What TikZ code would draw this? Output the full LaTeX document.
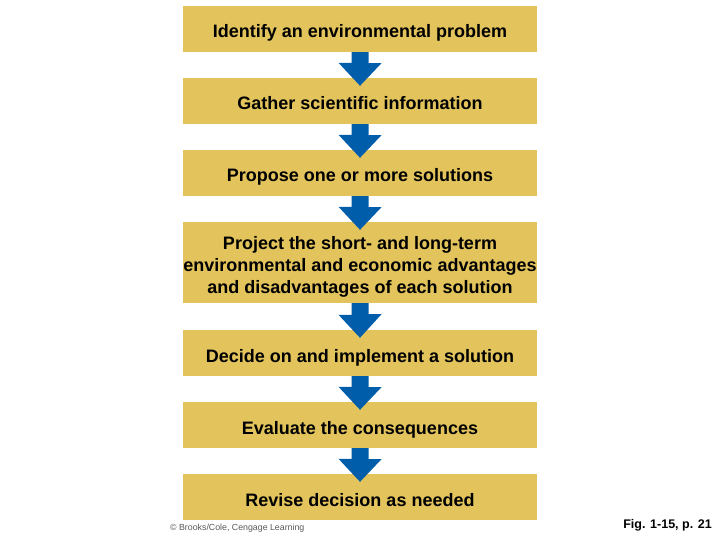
\documentclass[tikz,border=0pt]{standalone}
\usepackage{fontspec}
\setmainfont{Liberation Sans}
\definecolor{stepgold}{RGB}{227,196,92}
\definecolor{flowblue}{RGB}{0,93,170}
\tikzset{
  stepbox/.style={rectangle, fill=stepgold, inner sep=0pt,
    minimum width=354pt, minimum height=46pt,
    font=\fontsize{18}{22}\selectfont\bfseries,
    text height=18pt, text depth=0pt, align=center},
  flowarrow/.style={fill=flowblue}
}

\begin{document}
\begin{tikzpicture}[x=1pt, y=-1pt]
\useasboundingbox (0,0) rectangle (720,540);
\node (s1) [stepbox] at (360,29) {Identify an environmental problem};
\node (s2) [stepbox] at (360,101) {Gather scientific information};
\node (s3) [stepbox] at (360,173) {Propose one or more solutions};
\node (s4) [stepbox, minimum height=81pt, text height=62pt] at (360,262.5)
  {Project the short- and long-term\\
   environmental and economic advantages\\
   and disadvantages of each solution};
\node (s5) [stepbox] at (360,353) {Decide on and implement a solution};
\node (s6) [stepbox] at (360,425) {Evaluate the consequences};
\node (s7) [stepbox] at (360,497) {Revise decision as needed};
\fill [flowarrow]
       ([xshift=-8.5pt]s1.south)
  -- ++(17,0) -- ++(0,11) -- ++(13,0)
  -- ([yshift=-8pt]s2.north)
  -- ++(-21.5,-23) -- ++(13,0) -- cycle;
\fill [flowarrow]
       ([xshift=-8.5pt]s2.south)
  -- ++(17,0) -- ++(0,11) -- ++(13,0)
  -- ([yshift=-8pt]s3.north)
  -- ++(-21.5,-23) -- ++(13,0) -- cycle;
\fill [flowarrow]
       ([xshift=-8.5pt]s3.south)
  -- ++(17,0) -- ++(0,11) -- ++(13,0)
  -- ([yshift=-8pt]s4.north)
  -- ++(-21.5,-23) -- ++(13,0) -- cycle;
\fill [flowarrow]
       ([xshift=-8.5pt]s4.south)
  -- ++(17,0) -- ++(0,11) -- ++(13,0)
  -- ([yshift=-8pt]s5.north)
  -- ++(-21.5,-23) -- ++(13,0) -- cycle;
\fill [flowarrow]
       ([xshift=-8.5pt]s5.south)
  -- ++(17,0) -- ++(0,11) -- ++(13,0)
  -- ([yshift=-8pt]s6.north)
  -- ++(-21.5,-23) -- ++(13,0) -- cycle;
\fill [flowarrow]
       ([xshift=-8.5pt]s6.south)
  -- ++(17,0) -- ++(0,11) -- ++(13,0)
  -- ([yshift=-8pt]s7.north)
  -- ++(-21.5,-23) -- ++(13,0) -- cycle;
\node (credit) [anchor=base west, inner sep=0pt, text=black!65,
  font=\fontsize{8.8}{10}\selectfont] at (170,530)
  {\textcopyright{} Brooks/Cole, Cengage Learning};
\node (figref) [anchor=base east, inner sep=0pt,
  font=\fontsize{12.5}{14}\selectfont\bfseries] at (712,528)
  {Fig. 1-15, p. 21};
\end{tikzpicture}
\end{document}
